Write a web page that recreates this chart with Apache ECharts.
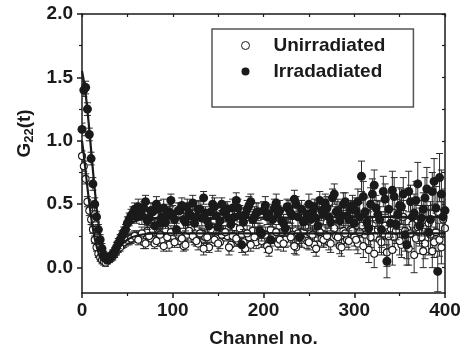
<!DOCTYPE html>
<html><head><meta charset="utf-8">
<script src="https://cdn.jsdelivr.net/npm/echarts@6/dist/echarts.min.js"></script>
<style>html,body{margin:0;padding:0;background:#fff}#c{width:466px;height:353px}</style>
</head><body><div id="c"></div>
<script>
// ---- measured points, set A ----
const channels = [0,2,4,6,8,10,12,14,16,18,20,22,24,26,28,30,
 32,36,40,44,48,52,56,60,
 64,68,72,76,80,84,88,92,96,100,104,108,112,116,120,124,128,132,136,140,
 144,148,152,156,160,164,168,172,176,180,184,188,192,196,200,204,208,212,216,220,
 224,228,232,236,240,244,248,252,256,260,264,268,272,276,280,284,288,292,296,300,
 304,308,312,316,320,324,328,332,336,340,344,348,352,356,360,364,368,372,376,380,384,388,392,396,400];

const irradiated = [1.09,1.40,1.42,1.25,1.05,0.86,0.66,0.50,0.40,0.30,0.22,0.15,0.10,0.08,0.06,0.07,
 0.09,0.13,0.19,0.25,0.30,0.38,0.43,0.40,
 0.44,0.47,0.37,0.45,0.33,0.46,0.40,0.36,0.44,0.42,
 0.30,0.45,0.38,0.48,0.41,0.35,0.46,0.39,0.43,0.33,
 0.50,0.41,0.37,0.44,0.46,0.34,0.40,0.47,0.18,0.42,
 0.49,0.38,0.43,0.29,0.45,0.40,0.22,0.47,0.43,0.37,
 0.31,0.46,0.41,0.50,0.24,0.36,0.42,0.38,0.48,0.33,
 0.45,0.51,0.40,0.55,0.44,0.37,0.50,0.41,0.46,0.35,
 0.52,0.72,0.44,0.31,0.58,0.47,0.38,0.60,0.05,0.35,0.56,0.42,0.48,0.26,0.60,0.40,0.53,0.33,0.46,0.62,0.38,0.68,-0.03,0.58,0.45];

const irradiatedErr = [0.05,0.05,0.05,0.05,0.05,0.05,0.05,0.05,0.04,0.04,0.04,0.04,0.03,0.03,0.03,0.03,
 0.03,0.03,0.04,0.04,0.04,0.05,0.05,0.05,
 0.06,0.05,0.07,0.06,0.05,0.07,0.06,0.05,0.06,0.07,
 0.05,0.06,0.07,0.06,0.05,0.06,0.07,0.06,0.05,0.06,
 0.07,0.06,0.05,0.07,0.06,0.05,0.06,0.07,0.06,0.05,
 0.07,0.06,0.08,0.06,0.07,0.06,0.05,0.07,0.06,0.08,
 0.06,0.07,0.08,0.06,0.07,0.06,0.08,0.07,0.06,0.07,
 0.08,0.07,0.09,0.07,0.08,0.06,0.09,0.08,0.07,0.08,
 0.10,0.12,0.11,0.13,0.12,0.10,0.14,0.12,0.13,0.11,0.15,0.12,0.14,0.13,0.16,0.12,0.15,0.14,0.13,0.17,0.14,0.18,0.16,0.19,0.17];

const unirradiated = [0.88,0.80,0.70,0.52,0.45,0.38,0.30,0.22,0.16,0.11,0.08,0.06,0.05,0.04,0.06,0.07,
 0.08,0.11,0.15,0.18,0.21,0.22,0.24,0.25,
 0.24,0.20,0.29,0.23,0.19,0.27,0.22,0.30,0.18,0.25,
 0.28,0.21,0.17,0.26,0.31,0.22,0.19,0.27,0.24,0.16,
 0.29,0.23,0.20,0.28,0.25,0.18,0.32,0.21,0.26,0.15,
 0.24,0.29,0.20,0.27,0.23,0.17,0.30,0.25,0.19,0.28,
 0.22,0.33,0.26,0.16,0.24,0.29,0.21,0.27,0.18,0.31,
 0.23,0.26,0.20,0.34,0.25,0.17,0.29,0.22,0.30,0.24,
 0.19,0.33,0.26,0.14,0.30,0.38,0.22,0.27,0.12,0.31,0.24,0.36,0.18,0.29,0.15,0.34,0.23,0.28,0.13,0.37,0.26,0.20,0.44,0.16,0.31];

const unirradiatedErr = [0.04,0.04,0.04,0.04,0.04,0.04,0.03,0.03,0.03,0.03,0.03,0.03,0.03,0.03,0.03,0.03,
 0.03,0.03,0.03,0.03,0.04,0.04,0.04,0.04,
 0.04,0.05,0.04,0.05,0.04,0.04,0.05,0.04,0.05,0.04,
 0.04,0.05,0.04,0.05,0.05,0.04,0.05,0.04,0.05,0.04,
 0.05,0.04,0.05,0.05,0.04,0.05,0.05,0.04,0.05,0.05,
 0.05,0.06,0.05,0.05,0.06,0.05,0.05,0.06,0.05,0.06,
 0.06,0.05,0.06,0.06,0.05,0.06,0.06,0.05,0.06,0.06,
 0.06,0.07,0.06,0.06,0.07,0.06,0.07,0.06,0.07,0.07,
 0.08,0.09,0.08,0.10,0.09,0.08,0.10,0.09,0.11,0.09,0.10,0.12,0.10,0.11,0.13,0.10,0.12,0.11,0.13,0.12,0.14,0.12,0.15,0.13,0.14];

// ---- measured points, set B (in-between channels) ----
const channelsB = [34,38,42,46,50,54,58,
 62,66,70,74,78,82,86,90,94,98,102,106,110,114,118,122,126,130,134,138,142,146,150,154,158,
 162,166,170,174,178,182,186,190,194,198,202,206,210,214,218,222,226,230,234,238,242,246,250,254,258,
 262,266,270,274,278,282,286,290,294,298,
 302,306,310,314,318,322,326,330,334,338,342,346,350,354,358,362,366,370,374,378,382,386,390,394,398];

const irradiatedB = [0.11,0.16,0.22,0.28,0.35,0.41,0.46,
 0.48,0.41,0.52,0.39,0.44,0.50,0.35,0.47,0.42,0.53,
 0.38,0.45,0.49,0.36,0.43,0.51,0.40,0.46,0.55,0.37,
 0.44,0.48,0.32,0.50,0.43,0.39,0.47,0.53,0.41,0.36,
 0.46,0.52,0.40,0.44,0.27,0.49,0.42,0.38,0.51,0.45,
 0.35,0.48,0.43,0.54,0.40,0.46,0.37,0.50,0.44,0.39,
 0.53,0.42,0.47,0.36,0.58,0.45,0.41,0.52,0.38,0.49,
 0.45,0.40,0.56,0.36,0.50,0.65,0.42,0.30,0.54,0.46,0.61,0.34,0.49,0.58,0.18,0.52,0.43,0.66,0.39,0.55,0.28,0.60,0.47,0.71,0.40];

const irradiatedErrB = [0.03,0.04,0.04,0.04,0.05,0.05,0.05,
 0.06,0.07,0.05,0.06,0.07,0.06,0.05,0.07,0.06,0.05,
 0.07,0.06,0.06,0.07,0.05,0.06,0.07,0.06,0.05,0.07,
 0.06,0.07,0.06,0.05,0.07,0.06,0.07,0.06,0.08,0.06,
 0.07,0.06,0.08,0.07,0.06,0.07,0.08,0.06,0.07,0.08,
 0.07,0.06,0.08,0.07,0.08,0.07,0.06,0.08,0.07,0.09,
 0.07,0.08,0.09,0.07,0.08,0.09,0.08,0.07,0.09,0.08,
 0.10,0.11,0.12,0.10,0.13,0.12,0.11,0.14,0.12,0.13,0.15,0.12,0.14,0.13,0.16,0.13,0.15,0.17,0.14,0.16,0.18,0.15,0.17,0.19,0.16];

const unirradiatedB = [0.09,0.13,0.16,0.20,0.22,0.23,0.25,
 0.22,0.27,0.19,0.25,0.30,0.21,0.26,0.17,0.24,0.28,
 0.20,0.26,0.23,0.18,0.29,0.25,0.21,0.27,0.15,0.24,
 0.30,0.22,0.19,0.26,0.28,0.16,0.25,0.23,0.31,0.20,
 0.27,0.18,0.24,0.29,0.21,0.26,0.14,0.25,0.28,0.22,
 0.19,0.30,0.24,0.17,0.27,0.23,0.32,0.20,0.26,0.15,
 0.28,0.22,0.25,0.19,0.31,0.24,0.16,0.27,0.21,0.29,
 0.22,0.28,0.17,0.35,0.24,0.11,0.30,0.20,0.33,0.25,0.14,0.29,0.21,0.40,0.18,0.27,0.10,0.32,0.24,0.19,0.35,0.13,0.28,0.22,0.38];

const unirradiatedErrB = [0.03,0.03,0.03,0.04,0.04,0.04,0.04,
 0.04,0.05,0.04,0.04,0.05,0.04,0.05,0.04,0.05,0.05,
 0.04,0.05,0.05,0.04,0.05,0.05,0.04,0.05,0.05,0.04,
 0.05,0.05,0.06,0.05,0.05,0.06,0.05,0.06,0.05,0.05,
 0.06,0.05,0.06,0.06,0.05,0.06,0.05,0.06,0.06,0.06,
 0.06,0.06,0.07,0.06,0.06,0.07,0.06,0.06,0.07,0.06,
 0.07,0.06,0.07,0.07,0.06,0.07,0.07,0.08,0.07,0.07,
 0.08,0.09,0.09,0.10,0.08,0.11,0.09,0.10,0.11,0.10,0.12,0.10,0.11,0.13,0.11,0.12,0.14,0.11,0.13,0.12,0.14,0.13,0.15,0.13,0.14];

// ---- fitted curves ----
const fitChannels = [0,2,4,6,8,10,12,14,16,18,20,22,24,26,28,30,33,36,40,45,50,55,60,70,80,100,150,200,250,300,350,400];
const fitIrradiated = [1.55,1.47,1.37,1.24,1.09,0.93,0.77,0.62,0.48,0.36,0.26,0.18,0.12,0.08,0.06,0.06,0.08,0.12,0.18,0.25,0.31,0.35,0.37,0.385,0.39,0.39,0.39,0.395,0.395,0.40,0.40,0.40];
const fitUnirradiated = [1.00,0.89,0.76,0.63,0.51,0.40,0.31,0.23,0.17,0.12,0.08,0.06,0.05,0.05,0.05,0.06,0.08,0.11,0.15,0.19,0.22,0.24,0.25,0.265,0.27,0.27,0.27,0.27,0.27,0.27,0.27,0.27];

const yMajor = [0,0.5,1.0,1.5,2.0];
const yMinor = [0.25,0.75,1.25,1.75];
const yAll = [0,0.25,0.5,0.75,1.0,1.25,1.5,1.75,2.0];

const FONT = '"Liberation Sans", Arial, sans-serif';
const INK = '#1a1a1a';

function pts(ch, vals){ return ch.map((c,i)=>[c, vals[i]]); }
function errs(ch, vals, e){ return ch.map((c,i)=>[c, vals[i]-e[i], vals[i]+e[i]]); }
function fit(vals){ return fitChannels.map((c,i)=>[c, vals[i]]); }

function errRender(params, api){
  const x = api.value(0), lo = api.value(1), hi = api.value(2);
  const a = api.coord([x, hi]), b = api.coord([x, lo]);
  const w = 3.5;
  const st = {stroke: '#2a2a2a', lineWidth: 1};
  return {type:'group', children:[
    {type:'line', shape:{x1:a[0],y1:a[1],x2:b[0],y2:b[1]}, style:st},
    {type:'line', shape:{x1:a[0]-w,y1:a[1],x2:a[0]+w,y2:a[1]}, style:st},
    {type:'line', shape:{x1:b[0]-w,y1:b[1],x2:b[0]+w,y2:b[1]}, style:st}
  ]};
}

const chart = echarts.init(document.getElementById('c'), null, {renderer:'canvas'});
const axLine = {show:true, onZero:false, lineStyle:{color:INK, width:1.5}};
chart.setOption({
  animation:false,
  backgroundColor:'#fff',
  grid:{left:82, right:21, top:14, bottom:58, containLabel:false},
  legend:{
    orient:'vertical', left:212, top:29,
    padding:[7, 28, 26, 29],
    borderColor:'#555', borderWidth:1.5,
    itemWidth:8, itemHeight:8, itemGap:7,
    textStyle:{fontFamily:FONT, fontSize:19, fontWeight:'bold', color:INK, padding:[0,0,0,19]},
    data:[
      {name:'Unirradiated', icon:'circle', itemStyle:{color:'#fff', borderColor:INK, borderWidth:1}},
      {name:'Irradadiated', icon:'circle', itemStyle:{color:INK}}
    ]
  },
  xAxis:[{
    type:'value', position:'bottom', min:0, max:400, interval:100,
    axisLine:axLine,
    axisTick:{show:true, inside:false, length:5, lineStyle:{color:INK, width:1.5}},
    minorTick:{show:true, splitNumber:2, length:3, lineStyle:{color:INK, width:1.2}},
    splitLine:{show:false},
    axisLabel:{margin:8, fontFamily:FONT, fontSize:19, fontWeight:'bold', color:INK},
    name:'Channel no.', nameLocation:'middle', nameGap:36,
    nameTextStyle:{fontFamily:FONT, fontSize:19, fontWeight:'bold', color:INK}
  },{
    type:'value', position:'top', min:0, max:400, interval:50,
    axisLine:axLine,
    axisTick:{show:true, inside:true, length:3, lineStyle:{color:INK, width:1.2}},
    axisLabel:{show:false}, splitLine:{show:false}
  }],
  yAxis:[{
    type:'value', position:'left', min:-0.2, max:2.0,
    axisLine:axLine,
    axisTick:{show:true, inside:false, length:5, customValues:yMajor, lineStyle:{color:INK, width:1.5}},
    axisLabel:{margin:9, customValues:yMajor, formatter:v=>Number(v).toFixed(1), fontFamily:FONT, fontSize:19, fontWeight:'bold', color:INK},
    splitLine:{show:false},
    name:'{m|G}{s|22}{m|(t)}', nameLocation:'middle', nameGap:44,
    nameTextStyle:{fontFamily:FONT, fontSize:19, fontWeight:'bold', color:INK, padding:[0,0,0,40],
      rich:{m:{fontFamily:FONT, fontSize:19, fontWeight:'bold', color:INK},
            s:{fontFamily:FONT, fontSize:13, fontWeight:'bold', color:INK, verticalAlign:'bottom', padding:[8,0,0,0]}}}
  },{
    type:'value', position:'left', min:-0.2, max:2.0,
    axisLine:{show:false, onZero:false},
    axisTick:{show:true, inside:false, length:3, customValues:yMinor, lineStyle:{color:INK, width:1.2}},
    axisLabel:{show:false, customValues:yMinor}, splitLine:{show:false}
  },{
    type:'value', position:'right', min:-0.2, max:2.0,
    axisLine:axLine,
    axisTick:{show:true, inside:true, length:3, customValues:yAll, lineStyle:{color:INK, width:1.2}},
    axisLabel:{show:false, customValues:yAll}, splitLine:{show:false}
  }],
  series:[
    {type:'custom', name:'uErr', renderItem:errRender,
      data:errs(channels, unirradiated, unirradiatedErr).concat(errs(channelsB, unirradiatedB, unirradiatedErrB)),
      clip:true, z:1, silent:true},
    {type:'scatter', name:'Unirradiated',
      data:pts(channels, unirradiated).concat(pts(channelsB, unirradiatedB)), symbol:'circle', symbolSize:7,
      itemStyle:{color:'#fff', borderColor:INK, borderWidth:1.1, opacity:1}, z:2},
    {type:'custom', name:'iErr', renderItem:errRender,
      data:errs(channels, irradiated, irradiatedErr).concat(errs(channelsB, irradiatedB, irradiatedErrB)),
      clip:true, z:3, silent:true},
    {type:'scatter', name:'Irradadiated',
      data:pts(channels, irradiated).concat(pts(channelsB, irradiatedB)), symbol:'circle', symbolSize:9,
      itemStyle:{color:INK, opacity:1}, z:4},
    {type:'line', name:'fitU', data:fit(fitUnirradiated), smooth:0.3, showSymbol:false, symbol:'none',
      lineStyle:{color:INK, width:2.2}, z:5, silent:true},
    {type:'line', name:'fitI', data:fit(fitIrradiated), smooth:0.3, showSymbol:false, symbol:'none',
      lineStyle:{color:INK, width:2.2}, z:5, silent:true}
  ]
});
</script></body></html>
